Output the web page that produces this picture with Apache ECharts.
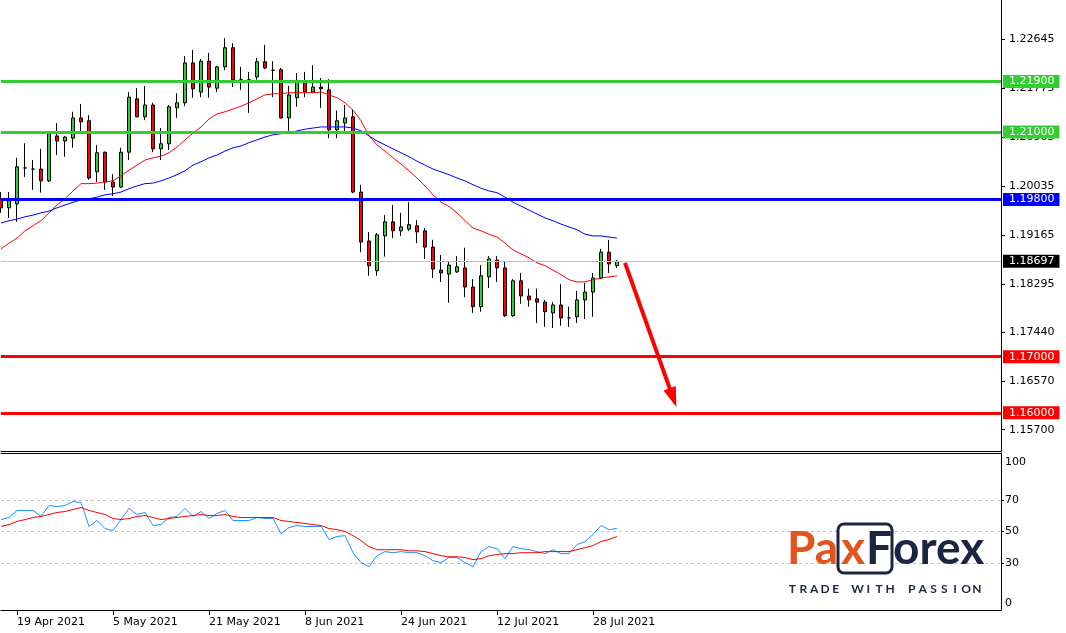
<!DOCTYPE html>
<html><head><meta charset="utf-8">
<script src="https://cdn.jsdelivr.net/npm/echarts@6/dist/echarts.min.js"></script>
<style>html,body{margin:0;padding:0;background:#fff}#c{width:1066px;height:633px}</style>
</head><body><div id="c"></div>
<script>
const dates = ['15 Apr 2021','16 Apr 2021','19 Apr 2021','20 Apr 2021','21 Apr 2021','22 Apr 2021','23 Apr 2021','26 Apr 2021','27 Apr 2021','28 Apr 2021','29 Apr 2021','30 Apr 2021','3 May 2021','4 May 2021','5 May 2021','6 May 2021','7 May 2021','10 May 2021','11 May 2021','12 May 2021','13 May 2021','14 May 2021','17 May 2021','18 May 2021','19 May 2021','20 May 2021','21 May 2021','24 May 2021','25 May 2021','26 May 2021','27 May 2021','28 May 2021','31 May 2021','1 Jun 2021','2 Jun 2021','3 Jun 2021','4 Jun 2021','7 Jun 2021','8 Jun 2021','9 Jun 2021','10 Jun 2021','11 Jun 2021','14 Jun 2021','15 Jun 2021','16 Jun 2021','17 Jun 2021','18 Jun 2021','21 Jun 2021','22 Jun 2021','23 Jun 2021','24 Jun 2021','25 Jun 2021','28 Jun 2021','29 Jun 2021','30 Jun 2021','1 Jul 2021','2 Jul 2021','5 Jul 2021','6 Jul 2021','7 Jul 2021','8 Jul 2021','9 Jul 2021','12 Jul 2021','13 Jul 2021','14 Jul 2021','15 Jul 2021','16 Jul 2021','19 Jul 2021','20 Jul 2021','21 Jul 2021','22 Jul 2021','23 Jul 2021','26 Jul 2021','27 Jul 2021','28 Jul 2021','29 Jul 2021','30 Jul 2021','2 Aug 2021'];

// [open, close, low, high]
const ohlc = [
[1.1979,1.1965,1.1956,1.1993],[1.1965,1.1979,1.1947,1.1993],[1.1972,1.2038,1.1940,1.2054],[1.2036,1.2036,1.2020,1.2080],
[1.2034,1.2034,1.1997,1.2050],[1.2034,1.2013,1.1992,1.2070],[1.2013,1.2097,1.2011,1.2098],[1.2093,1.2084,1.2059,1.2116],
[1.2084,1.2091,1.2056,1.2093],[1.2089,1.2125,1.2072,1.2136],[1.2125,1.2118,1.2100,1.2150],[1.2120,1.2018,1.2015,1.2130],
[1.2029,1.2063,1.2011,1.2077],[1.2064,1.2011,1.1997,1.2065],[1.2011,1.2002,1.1986,1.2025],[1.2002,1.2064,1.2000,1.2072],
[1.2064,1.2162,1.2050,1.2171],[1.2159,1.2127,1.2126,1.2178],[1.2127,1.2148,1.2121,1.2182],[1.2148,1.2070,1.2064,1.2152],
[1.2070,1.2079,1.2050,1.2107],[1.2079,1.2145,1.2068,1.2148],[1.2143,1.2152,1.2125,1.2169],[1.2152,1.2223,1.2146,1.2235],
[1.2223,1.2177,1.2161,1.2246],[1.2171,1.2226,1.2162,1.2230],[1.2226,1.2180,1.2161,1.2241],[1.2178,1.2216,1.2171,1.2218],
[1.2216,1.2250,1.2210,1.2267],[1.2250,1.2193,1.2180,1.2258],[1.2193,1.2193,1.2175,1.2216],[1.2193,1.2193,1.2134,1.2207],
[1.2198,1.2225,1.2193,1.2232],[1.2225,1.2214,1.2212,1.2255],[1.2210,1.2210,1.2162,1.2226],[1.2211,1.2125,1.2124,1.2214],
[1.2125,1.2166,1.2102,1.2182],[1.2161,1.2189,1.2145,1.2205],[1.2189,1.2171,1.2162,1.2207],[1.2171,1.2180,1.2169,1.2219],
[1.2180,1.2177,1.2143,1.2196],[1.2175,1.2104,1.2089,1.2194],[1.2104,1.2120,1.2089,1.2138],[1.2116,1.2125,1.2102,1.2148],
[1.2127,1.1993,1.1991,1.2139],[1.1993,1.1904,1.1886,1.2006],[1.1906,1.1862,1.1844,1.1922],[1.1853,1.1917,1.1844,1.1920],
[1.1915,1.1940,1.1878,1.1952],[1.1940,1.1924,1.1911,1.1970],[1.1924,1.1931,1.1915,1.1956],[1.1927,1.1935,1.1924,1.1975],
[1.1933,1.1922,1.1902,1.1943],[1.1924,1.1895,1.1874,1.1929],[1.1895,1.1856,1.1840,1.1908],[1.1854,1.1849,1.1833,1.1881],
[1.1847,1.1863,1.1796,1.1869],[1.1851,1.1860,1.1849,1.1879],[1.1858,1.1824,1.1806,1.1894],[1.1824,1.1789,1.1778,1.1838],
[1.1789,1.1844,1.1780,1.1863],[1.1842,1.1874,1.1822,1.1879],[1.1872,1.1858,1.1833,1.1879],[1.1858,1.1773,1.1771,1.1869],
[1.1773,1.1835,1.1771,1.1838],[1.1835,1.1808,1.1794,1.1849],[1.1808,1.1801,1.1789,1.1821],[1.1803,1.1797,1.1760,1.1821],
[1.1797,1.1780,1.1753,1.1801],[1.1778,1.1792,1.1751,1.1797],[1.1792,1.1769,1.1755,1.1829],[1.1769,1.1769,1.1753,1.1789],
[1.1771,1.1801,1.1760,1.1817],[1.1801,1.1815,1.1767,1.1831],[1.1815,1.1840,1.1771,1.1849],[1.1840,1.1886,1.1838,1.1892],
[1.1886,1.1865,1.1849,1.1908],[1.1862,1.18697,1.1858,1.1872]
];

const maFast = [1.1892,1.1902,1.1911,1.1924,1.1933,1.1942,1.1956,1.1970,1.1981,1.1995,
1.2008,1.2008,1.2009,1.2011,1.2013,1.2022,1.2032,1.2041,1.2050,1.2054,
1.2057,1.2063,1.2073,1.2086,1.2098,1.2109,1.2123,1.2132,1.2136,1.2141,
1.2146,1.2152,1.2159,1.2166,1.2168,1.2168,1.2170,1.2170,1.2170,1.2170,
1.2171,1.2166,1.2161,1.2152,1.2139,1.2120,1.2093,1.2077,1.2066,1.2054,
1.2043,1.2031,1.2018,1.2004,1.1988,1.1975,1.1967,1.1956,1.1942,1.1929,
1.1924,1.1918,1.1913,1.1902,1.1890,1.1883,1.1876,1.1867,1.1862,1.1854,
1.1846,1.1837,1.1833,1.1833,1.1837,1.1840,1.1842,1.1844];

const maSlow = [1.1938,1.1942,1.1945,1.1949,1.1952,1.1956,1.1959,1.1965,1.1970,1.1975,
1.1979,1.1981,1.1984,1.1988,1.1990,1.1993,1.1999,1.2004,1.2008,1.2009,
1.2013,1.2018,1.2024,1.2031,1.2041,1.2047,1.2054,1.2059,1.2066,1.2072,
1.2075,1.2081,1.2086,1.2091,1.2095,1.2097,1.2098,1.2102,1.2105,1.2107,
1.2109,1.2109,1.2109,1.2109,1.2107,1.2102,1.2093,1.2084,1.2077,1.2070,
1.2063,1.2056,1.2048,1.2041,1.2034,1.2029,1.2024,1.2018,1.2013,1.2006,
1.2000,1.1995,1.1992,1.1984,1.1975,1.1968,1.1961,1.1954,1.1947,1.1942,
1.1936,1.1931,1.1926,1.1918,1.1915,1.1915,1.1913,1.1911];

const rsi = [57.6,58.9,63.4,63.4,63.4,59.6,66.6,65.9,66.6,69.1,
68.5,53.2,57.0,51.9,50.6,57.6,64.7,60.8,62.1,53.8,
54.5,58.9,59.6,64.7,59.6,62.7,58.3,61.5,63.4,57.0,
57.0,57.0,58.9,58.3,58.3,48.7,52.5,53.8,53.2,53.2,
53.2,44.9,46.8,47.4,36.5,30.2,27.6,34.6,37.2,36.5,
37.2,36.5,36.5,34.6,31.4,30.2,33.4,33.4,30.2,27.6,
37.2,40.4,39.1,32.7,40.4,39.1,38.4,37.2,35.9,38.4,
35.9,35.9,41.7,43.6,48.1,53.8,51.2,51.9];

const rsiSignal = [53.2,54.4,56.4,57.6,58.9,59.6,60.8,62.1,62.7,64.0,
65.3,63.4,62.1,60.8,58.3,57.6,58.3,59.6,60.2,58.9,
57.6,58.3,58.9,59.6,60.2,60.8,60.2,60.2,60.8,59.6,
58.9,58.9,58.9,58.9,58.9,57.0,56.4,55.7,55.1,54.4,
53.8,51.9,51.2,50.0,47.4,44.2,40.4,38.4,38.4,38.4,
38.4,37.7,37.7,37.2,35.9,34.6,33.9,33.9,33.4,32.1,
32.7,34.6,35.3,35.9,35.9,36.5,36.5,36.5,37.2,37.2,
37.2,37.2,38.4,39.7,41.0,43.6,44.9,46.8];

const priceTicks = [1.15700,1.16570,1.17440,1.18295,1.19165,1.20035,1.20905,1.21775,1.22645];
const oscTicks = [0,30,50,70,100];
const oscLevels = [30,50,70];
const dateTicks = ['19 Apr 2021','5 May 2021','21 May 2021','8 Jun 2021','24 Jun 2021','12 Jul 2021','28 Jul 2021'];
const resistanceLevels = [1.2190,1.2100];
const pivotLevels = [1.1980];
const targetLevels = [1.1700,1.1600];
const lastPrice = 1.18697;
const arrowFrom = [78, 1.1867];
const arrowTo = [84, 1.1627];

const cats = dates.concat(Array.from({length: 48}, (_, k) => 'f' + k));

const FONT = 'DejaVu Sans';
function levelLine(v, color, width, bg) {
  return {
    yAxis: v,
    lineStyle: {color: color, width: width, type: 'solid'},
    label: {show: true, position: 'end', distance: 2, formatter: p => Number(p.value).toFixed(5),
      color: '#fff', backgroundColor: bg, fontFamily: FONT, fontSize: 11, lineHeight: 13,
      padding: [0, 5, 0, 6]}
  };
}

const chart = echarts.init(document.getElementById('c'), null, {renderer: 'canvas'});
const tickShow = (i, v) => dateTicks.indexOf(v) >= 0;

const graphics = [
  {type: 'rect', shape: {x: 838, y: 524, width: 54, height: 49, r: 6}, style: {fill: '#fff', stroke: '#1B2541', lineWidth: 3}, z: 100},
  {type: 'text', x: 787, y: 549, style: {text: 'Pa', fill: '#E4531B', font: 'bold 46px Lato', verticalAlign: 'middle', textVerticalAlign: 'middle'}, z: 101},
  {type: 'text', x: 841, y: 549, style: {text: 'x', fill: '#E4531B', font: 'bold 46px Lato', verticalAlign: 'middle', textVerticalAlign: 'middle'}, z: 101},
  {type: 'text', x: 866, y: 549, style: {text: 'F', fill: '#1B2541', font: 'bold 46px Lato', verticalAlign: 'middle', textVerticalAlign: 'middle'}, z: 101},
  {type: 'text', x: 893, y: 549, style: {text: 'orex', fill: '#1B2541', font: 'bold 46px Lato', verticalAlign: 'middle', textVerticalAlign: 'middle'}, z: 101}
];
'TRADE WITH PASSION'.split('').forEach((ch, k) => {
  graphics.push({type: 'text', x: 792.4 + k * 10.85, y: 589,
    style: {text: ch, fill: '#1B2541', font: 'bold 12px Lato', align: 'center', textAlign: 'center', verticalAlign: 'middle', textVerticalAlign: 'middle'}, z: 101});
});

chart.setOption({
  animation: false,
  backgroundColor: '#fff',
  grid: [
    {left: 1, top: 0, width: 1000, height: 451},
    {left: 1, top: 453, width: 1000, height: 157}
  ],
  xAxis: [
    {gridIndex: 0, type: 'category', data: cats, boundaryGap: false,
      axisLine: {lineStyle: {color: '#000', width: 1}}, axisTick: {show: false}, axisLabel: {show: false}, splitLine: {show: false}},
    {gridIndex: 1, type: 'category', data: cats, boundaryGap: false, position: 'bottom',
      axisLine: {lineStyle: {color: '#000', width: 1}},
      axisTick: {show: true, length: 5, interval: tickShow, lineStyle: {color: '#000'}},
      axisLabel: {interval: tickShow, align: 'left', color: '#000', fontFamily: FONT, fontSize: 11, margin: 7},
      splitLine: {show: false}},
    {gridIndex: 1, type: 'category', data: cats, boundaryGap: false, position: 'top',
      axisLine: {lineStyle: {color: '#000', width: 1}}, axisTick: {show: false}, axisLabel: {show: false}, splitLine: {show: false}}
  ],
  yAxis: [
    {gridIndex: 0, type: 'value', position: 'right', min: 1.1532, max: 1.2335, scale: true,
      axisLine: {show: true, lineStyle: {color: '#000'}},
      axisTick: {show: true, length: 4, customValues: priceTicks, lineStyle: {color: '#000'}},
      axisLabel: {customValues: priceTicks, formatter: v => v.toFixed(5), color: '#000', fontFamily: FONT, fontSize: 11, margin: 8},
      splitLine: {show: false}},
    {gridIndex: 1, type: 'value', position: 'right', min: 0, max: 100,
      axisLine: {show: true, lineStyle: {color: '#000'}},
      axisTick: {show: true, length: 3, customValues: oscLevels, lineStyle: {color: '#000'}},
      axisLabel: {customValues: oscTicks, color: '#000', fontFamily: FONT, fontSize: 11, margin: 4,
        formatter: v => v === 100 ? '{t|100}' : (v === 0 ? '{b|0}' : String(v)),
        rich: {t: {padding: [18, 0, 0, 0], fontFamily: FONT, fontSize: 11, color: '#000'},
               b: {padding: [0, 0, 14, 0], fontFamily: FONT, fontSize: 11, color: '#000'}}},
      splitLine: {show: false}}
  ],
  series: [
    {type: 'candlestick', xAxisIndex: 0, yAxisIndex: 0, data: ohlc, barWidth: 4, clip: false,
      itemStyle: {color: '#32CD32', color0: '#FF0000', borderColor: '#000', borderColor0: '#000', borderWidth: 1},
      markLine: {silent: true, symbol: 'none', precision: 5, z: 5, animation: false,
        data: [
          levelLine(lastPrice, '#C0C0C0', 1, '#000'),
          ...resistanceLevels.map(v => levelLine(v, '#32CD32', 3, '#32CD32')),
          ...pivotLevels.map(v => levelLine(v, '#0000FF', 3, '#0000FF')),
          ...targetLevels.map(v => levelLine(v, '#FF0000', 3, '#FF0000')),
          [{coord: arrowFrom, symbol: 'none', lineStyle: {color: '#FF0000', width: 4, type: 'solid'}, label: {show: false}},
           {coord: arrowTo, symbol: 'triangle', symbolSize: [13, 20]}]
        ]}},
    {type: 'line', xAxisIndex: 0, yAxisIndex: 0, data: maFast, showSymbol: false, symbol: 'none',
      lineStyle: {color: '#FF0000', width: 1}, itemStyle: {color: '#FF0000'}},
    {type: 'line', xAxisIndex: 0, yAxisIndex: 0, data: maSlow, showSymbol: false, symbol: 'none',
      lineStyle: {color: '#0000FF', width: 1}, itemStyle: {color: '#0000FF'}},
    {type: 'line', xAxisIndex: 1, yAxisIndex: 1, data: rsi, showSymbol: false, symbol: 'none',
      lineStyle: {color: '#1E90FF', width: 1}, itemStyle: {color: '#1E90FF'},
      markLine: {silent: true, symbol: 'none', z: 1, animation: false, label: {show: false},
        lineStyle: {color: '#C0C0C0', width: 1, type: [3, 3]},
        data: oscLevels.map(v => ({yAxis: v}))}},
    {type: 'line', xAxisIndex: 1, yAxisIndex: 1, data: rsiSignal, showSymbol: false, symbol: 'none',
      lineStyle: {color: '#FF0000', width: 1}, itemStyle: {color: '#FF0000'}}
  ],
  graphic: graphics
});
</script></body></html>
